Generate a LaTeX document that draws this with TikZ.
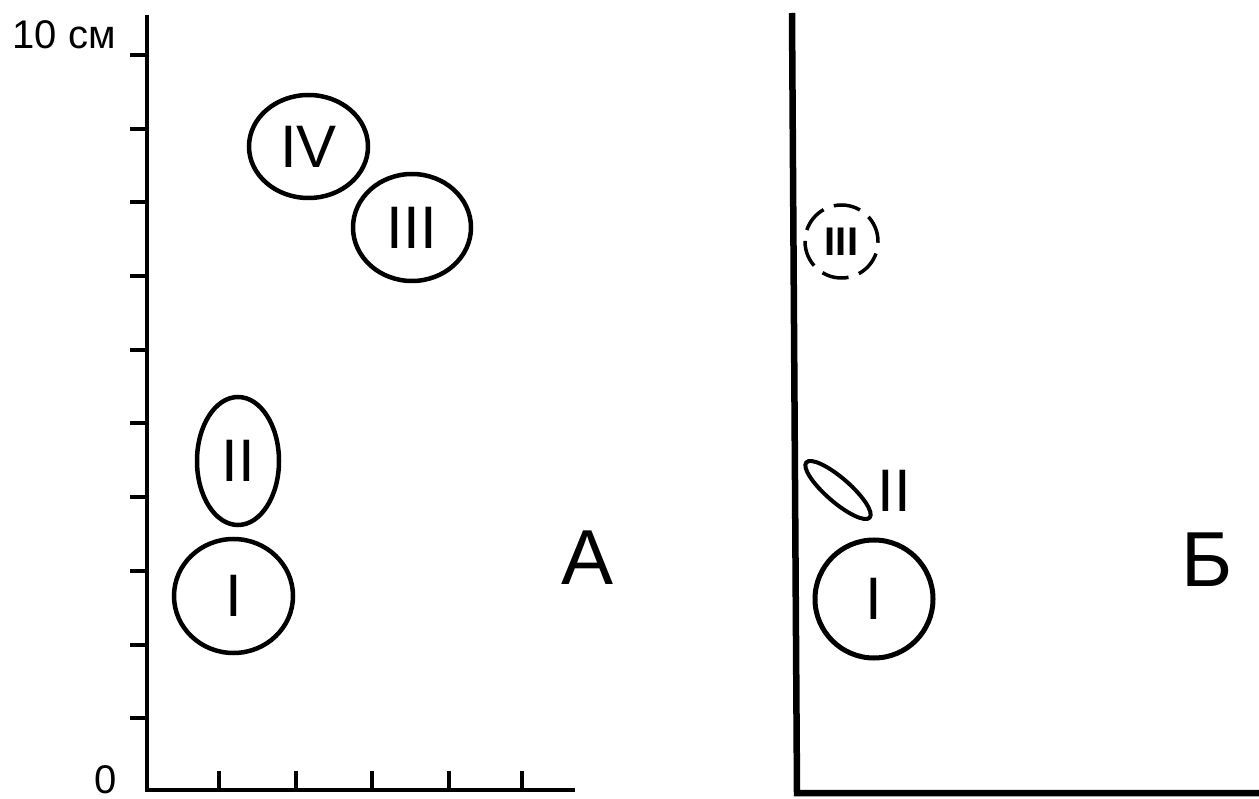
\documentclass[tikz,border=0pt]{standalone}
\usepackage{fontspec}
\setmainfont{Liberation Sans}
\usetikzlibrary{shapes.geometric}
\begin{document}
\begin{tikzpicture}[x=1pt,y=-1pt,
  axisline/.style={line width=4.5pt, line join=miter},
  axisthick/.style={line width=6.5pt, line join=miter},
  tickmark/.style={line width=4pt},
  blob/.style={ellipse, draw, line width=4.5pt, inner sep=0pt,
    font=\fontsize{60}{62}\selectfont},
  dashblob/.style={circle, draw, line width=3.5pt, inner sep=0pt,
    dash pattern=on 27pt off 11pt, font=\bfseries\fontsize{40}{42}\selectfont},
  small/.style={inner sep=0pt, font=\fontsize{40}{42}\selectfont},
  big/.style={inner sep=0pt, font=\fontsize{78}{80}\selectfont},
  numeral/.style={inner sep=0pt, font=\fontsize{60}{62}\selectfont}]
\useasboundingbox (0,0) rectangle (1259,799);

% ---------- panel A ----------
\coordinate (atop) at (147,15);
\coordinate (aorig) at (147,790);
\coordinate (aend) at (575,790);
\draw[axisline] (atop) -- (aorig) -- (aend);

% ticks on the vertical axis (1 cm apart)
\foreach \k in {0,...,9}
  \draw[tickmark] (130,{55+73.7*\k}) -- (147,{55+73.7*\k});
% ticks on the horizontal axis
\foreach \xx in {219,296,372,449,522}
  \draw[tickmark] (\xx,771) -- (\xx,790);

\node[small] (ten) at (64,35) {10 см};
\node[small, anchor=base] (zero) at (106,793) {0};

\node[blob, minimum width=119pt, minimum height=103pt] (a4) at (308.5,146.5) {IV};
\node[blob, minimum width=118pt, minimum height=107pt] (a3) at (412,227.5) {III};
\node[blob, minimum width=82pt, minimum height=128pt] (a2) at (238,461) {II};
\node[blob, minimum width=119pt, minimum height=114pt] (a1) at (233.5,596) {I};

\node[big] (labA) at (588,558) {А};

% ---------- panel B ----------
\coordinate (btop) at (792,13);
\coordinate (borig) at (797,793);
\coordinate (bend) at (1262,793);
\draw[axisthick] (btop) -- (borig) -- (bend);

\node[dashblob, minimum size=73pt] (b3) at (841.5,241.5) {III};
\node[ellipse, draw, line width=4pt, minimum width=84pt, minimum height=24pt,
  inner sep=0pt, rotate=-41] (b2) at (838,490) {};
\node[numeral] (b2lab) at (894,491) {II};
\node[blob, line width=5pt, minimum size=118pt] (b1) at (874,599) {I};

\node[big] (labB) at (1207,560) {Б};
\end{tikzpicture}
\end{document}
